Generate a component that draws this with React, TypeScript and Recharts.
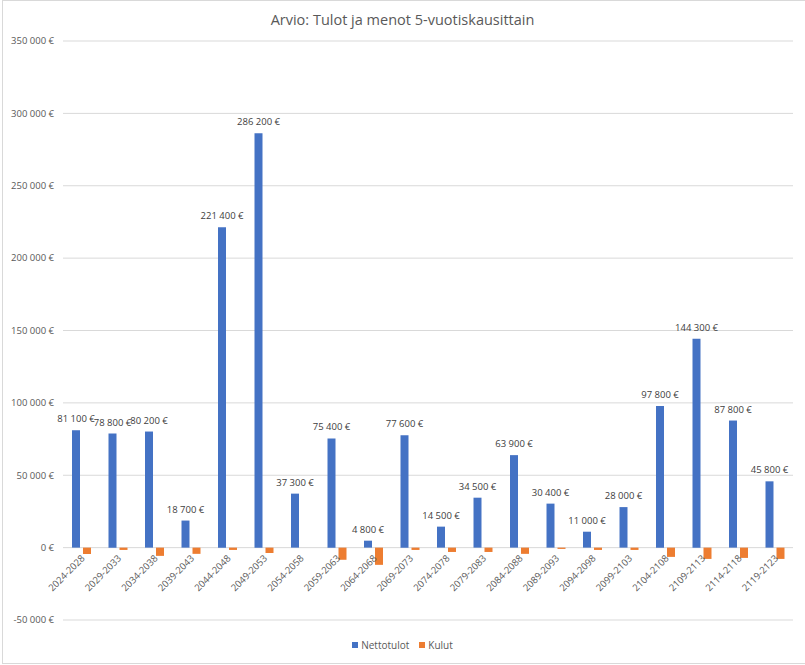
import { BarChart, Bar, XAxis, YAxis, CartesianGrid, Legend, LabelList } from "recharts";

const periods = [
  "2024-2028", "2029-2033", "2034-2038", "2039-2043", "2044-2048",
  "2049-2053", "2054-2058", "2059-2063", "2064-2068", "2069-2073",
  "2074-2078", "2079-2083", "2084-2088", "2089-2093", "2094-2098",
  "2099-2103", "2104-2108", "2109-2113", "2114-2118", "2119-2123",
];

const nettotulot = [
  81100, 78800, 80200, 18700, 221400, 286200, 37300, 75400, 4800, 77600,
  14500, 34500, 63900, 30400, 11000, 28000, 97800, 144300, 87800, 45800,
];

const kulut = [
  -4400, -1600, -5700, -4300, -1600, -3700, 0, -8400, -11900, -1600,
  -3000, -3000, -4300, -900, -1600, -1600, -6400, -7800, -7100, -7800,
];

const yTicks = [-50000, 0, 50000, 100000, 150000, 200000, 250000, 300000, 350000];

const seriesNames = ["Nettotulot", "Kulut"];

const chartData = periods.map((period, i) => ({
  period,
  Nettotulot: nettotulot[i],
  Kulut: kulut[i],
}));

const FONT = "'Open Sans', 'Noto Sans', sans-serif";
const BLUE = "#4472C4";
const ORANGE = "#ED7D31";

// välilyönnit sitoviksi, ettei Recharts rivitä lukuja
const euro = (v: number) => {
  const s = Math.abs(v)
    .toString()
    .replace(/\B(?=(\d{3})+(?!\d))/g, "\u00A0");
  return `${v < 0 ? "-" : ""}${s}\u00A0€`;
};

// kategorian nimi nollaviivan alle, vinoon (Nettotulot-palkin alareunasta)
function PeriodLabel(props: any) {
  const vb = props.viewBox ?? props;
  const y0 = Math.max(vb.y, vb.y + vb.height);
  const ax = vb.x + vb.width + 3;
  const ay = y0 + 9;
  return (
    <text
      x={ax}
      y={ay}
      dy="0.35em"
      textAnchor="end"
      transform={`rotate(-45, ${ax}, ${ay})`}
      fontSize={9.5}
      fontFamily={FONT}
      fill="#595959"
    >
      {props.value}
    </text>
  );
}

function LegendContent(props: any) {
  const { payload = [] } = props;
  const items = seriesNames
    .map((n) => payload.find((p: any) => p.value === n))
    .filter(Boolean);
  return (
    <div
      style={{
        height: 20,
        display: "flex",
        justifyContent: "center",
        alignItems: "center",
        gap: 10,
        fontFamily: FONT,
        fontSize: 10,
        color: "#595959",
      }}
    >
      {items.map((p: any) => (
        <span key={p.value} style={{ display: "flex", alignItems: "center", gap: 3 }}>
          <span style={{ width: 6, height: 6, background: p.color, display: "inline-block" }} />
          {p.value}
        </span>
      ))}
    </div>
  );
}

export default function App() {
  return (
    <div style={{ position: "absolute", left: 0, top: 0, width: 805, height: 665, background: "#fff" }}>
      <div
        style={{
          position: "absolute",
          left: 2,
          top: 0,
          width: 810,
          height: 662,
          borderLeft: "1px solid #d9d9d9",
          borderTop: "1px solid #d9d9d9",
          borderBottom: "1px solid #d9d9d9",
        }}
      />
      <div
        style={{
          position: "absolute",
          top: 10,
          width: 805,
          textAlign: "center",
          fontFamily: FONT,
          fontSize: 14.5,
          color: "#595959",
        }}
      >
        Arvio: Tulot ja menot 5-vuotiskausittain
      </div>
      <BarChart
        width={805}
        height={665}
        data={chartData}
        margin={{ top: 41, right: 12, left: 0, bottom: 25 }}
        barSize={8}
        barGap={3}
      >
        <CartesianGrid vertical={false} stroke="#d9d9d9" />
        <XAxis dataKey="period" hide />
        <YAxis
          width={63}
          domain={[-50000, 350000]}
          ticks={yTicks}
          tickFormatter={euro}
          axisLine={false}
          tickLine={false}
          tickSize={0}
          tickMargin={9}
          tick={{ fill: "#595959", fontSize: 9.5, fontFamily: FONT }}
          interval={0}
        />
        <Legend
          verticalAlign="bottom"
          content={<LegendContent />}
          wrapperStyle={{ bottom: 10, left: 0, width: 805 }}
        />
        <Bar dataKey="Nettotulot" fill={BLUE} isAnimationActive={false}>
          <LabelList
            dataKey="Nettotulot"
            position="top"
            offset={8}
            formatter={(v: any) => euro(Number(v))}
            style={{ fill: "#404040", fontSize: 9.5, fontFamily: FONT }}
          />
          <LabelList dataKey="period" content={<PeriodLabel />} />
        </Bar>
        <Bar dataKey="Kulut" fill={ORANGE} isAnimationActive={false} />
      </BarChart>
    </div>
  );
}
